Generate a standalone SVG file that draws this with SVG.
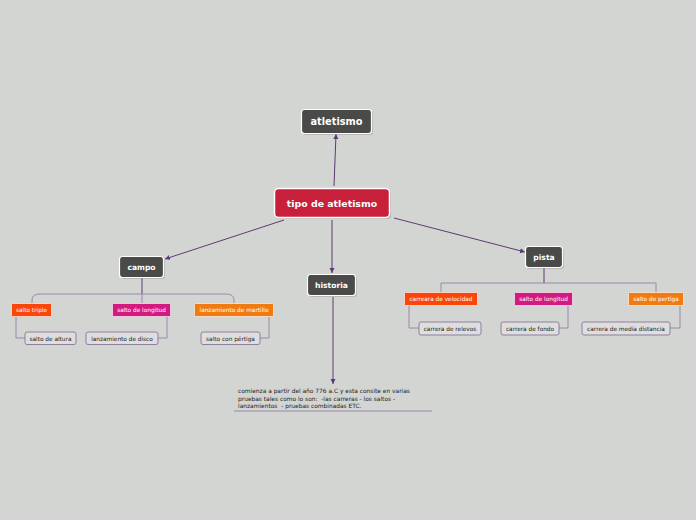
<svg xmlns="http://www.w3.org/2000/svg" width="696" height="520" viewBox="0 0 696 520">
<style>
.bg{fill:#d3d5d2}
.dark{fill:#4a4a48;stroke:#ffffff;stroke-width:1.2}
.main{fill:#c8203a;stroke:#ffffff;stroke-width:1.5}
.sh{fill:#9a9a9a;opacity:0.5}
.t1{font-family:"DejaVu Sans",Verdana,sans-serif;font-weight:bold;fill:#ffffff;text-anchor:middle}
.t2{font-family:"DejaVu Sans",Verdana,sans-serif;fill:#ffffff;text-anchor:middle;font-size:5.8px}
.t3{font-family:"DejaVu Sans",Verdana,sans-serif;fill:#222222;text-anchor:middle;font-size:5.8px}
.t4{font-family:"DejaVu Sans",Verdana,sans-serif;fill:#222222;font-size:5.9px;white-space:pre}
.red{fill:#fa4608;stroke:#ffffff;stroke-width:0.6}
.mag{fill:#d31a80;stroke:#ffffff;stroke-width:0.6}
.org{fill:#f07b12;stroke:#ffffff;stroke-width:0.6}
.leaf{fill:#dedede;stroke:#8e7f9e;stroke-width:1}
.arr{stroke:#5e3a74;stroke-width:1;fill:none}
.sub{stroke:#9a88aa;stroke-width:1;fill:none}
</style>
<defs>
<marker id="ah" markerWidth="6" markerHeight="6" refX="5" refY="3" orient="auto" markerUnits="userSpaceOnUse">
<path d="M0,0.5 L5,3 L0,5.5 Z" fill="#5e3a74"/>
</marker>
</defs>
<rect class="bg" x="0" y="0" width="696" height="520"/>

<g id="connectors">
<line class="arr" x1="334" y1="186" x2="336" y2="134" marker-end="url(#ah)"/>
<line class="arr" x1="284" y1="220" x2="165" y2="259" marker-end="url(#ah)"/>
<line class="arr" x1="332" y1="220" x2="332" y2="273" marker-end="url(#ah)"/>
<line class="arr" x1="394" y1="218" x2="525" y2="252" marker-end="url(#ah)"/>
<line class="arr" x1="333" y1="297" x2="333" y2="384" marker-end="url(#ah)"/>
<line class="arr" x1="142" y1="278" x2="142" y2="294"/>
<path class="sub" d="M32,303 V300 Q32,294 40,294 H226 Q234,294 234,300 V303"/>
<line class="sub" x1="142" y1="294" x2="142" y2="303"/>
<path class="sub" d="M16,316 V338 H25"/>
<path class="sub" d="M167,316 V338 H158"/>
<path class="sub" d="M269,316 V338 H260"/>
<line class="arr" x1="544" y1="267" x2="544" y2="283"/>
<path class="sub" d="M441,293 V283 H656 V293"/>
<path class="sub" d="M409,305 V328 H419"/>
<path class="sub" d="M568,305 V328 H559"/>
<path class="sub" d="M680,305 V328 H670"/>
<line x1="234" y1="411" x2="432" y2="411" stroke="#9a88aa" stroke-width="1"/>
</g>

<g id="atletismo">
<rect class="sh" x="303" y="111" width="70" height="24" rx="3"/>
<rect class="dark" x="301.5" y="109.5" width="70" height="24" rx="3"/>
<text class="t1" x="336.5" y="125" font-size="9.8">atletismo</text>
</g>

<g id="tipo">
<rect class="sh" x="276" y="190" width="115" height="29" rx="4"/>
<rect class="main" x="274.5" y="188.5" width="115" height="29" rx="4"/>
<text class="t1" x="332" y="207" font-size="9.4">tipo de atletismo</text>
</g>

<g id="campo">
<rect class="sh" x="121" y="258" width="44" height="21" rx="3"/>
<rect class="dark" x="119.5" y="256.5" width="44" height="21" rx="3"/>
<text class="t1" x="141.5" y="270" font-size="7.6">campo</text>
</g>

<g id="historia">
<rect class="sh" x="309" y="276" width="48" height="21" rx="3"/>
<rect class="dark" x="307.5" y="274.5" width="48" height="21" rx="3"/>
<text class="t1" x="331.5" y="288" font-size="7.6">historia</text>
</g>

<g id="pista">
<rect class="sh" x="527" y="248" width="37" height="21" rx="3"/>
<rect class="dark" x="525.5" y="246.5" width="37" height="21" rx="3"/>
<text class="t1" x="544" y="260" font-size="7.6">pista</text>
</g>

<g id="salto-triple">
<rect class="red" x="11.5" y="303.5" width="40" height="13" rx="1"/>
<text class="t2" x="31.5" y="312">salto triple</text>
</g>
<g id="salto-longitud-c">
<rect class="mag" x="112.5" y="303.5" width="58" height="13" rx="1"/>
<text class="t2" x="141.5" y="312">salto de longitud</text>
</g>
<g id="lanzamiento-martillo">
<rect class="org" x="194.5" y="303.5" width="79" height="13" rx="1"/>
<text class="t2" x="234" y="312">lanzamiento de martillo</text>
</g>
<g id="salto-altura">
<rect class="leaf" x="25" y="332" width="51" height="12.5" rx="2"/>
<text class="t3" x="50.5" y="340.5">salto de altura</text>
</g>
<g id="lanzamiento-disco">
<rect class="leaf" x="86" y="332" width="72" height="12.5" rx="2"/>
<text class="t3" x="122" y="340.5">lanzamiento de disco</text>
</g>
<g id="salto-pertiga-c">
<rect class="leaf" x="201" y="332" width="59" height="12.5" rx="2"/>
<text class="t3" x="230.5" y="340.5">salto con pértiga</text>
</g>

<g id="carreara-velocidad">
<rect class="red" x="404.5" y="292.5" width="73" height="13" rx="1"/>
<text class="t2" x="441" y="301">carreara de velocidad</text>
</g>
<g id="salto-longitud-p">
<rect class="mag" x="514.5" y="292.5" width="58" height="13" rx="1"/>
<text class="t2" x="543.5" y="301">salto de longitud</text>
</g>
<g id="salto-pertiga-p">
<rect class="org" x="628.5" y="292.5" width="55" height="13" rx="1"/>
<text class="t2" x="656" y="301">salto de pertiga</text>
</g>
<g id="carrera-relevos">
<rect class="leaf" x="419" y="322" width="62" height="13" rx="2"/>
<text class="t3" x="450" y="330.5">carrera de relevos</text>
</g>
<g id="carrera-fondo">
<rect class="leaf" x="501" y="322" width="58" height="13" rx="2"/>
<text class="t3" x="530" y="330.5">carrera de fondo</text>
</g>
<g id="carrera-media">
<rect class="leaf" x="582" y="322" width="88" height="13" rx="2"/>
<text class="t3" x="626" y="330.5">carrera de media distancia</text>
</g>

<g id="historia-texto">
<text class="t4" x="238" y="393">comienza a partir del año 776 a.C y esta consite en varias</text>
<text class="t4" x="238" y="400.5">pruebas tales como lo son:  -las carreras - los saltos -</text>
<text class="t4" x="238" y="408">lanzamientos  - pruebas combinadas ETC.</text>
</g>
</svg>
